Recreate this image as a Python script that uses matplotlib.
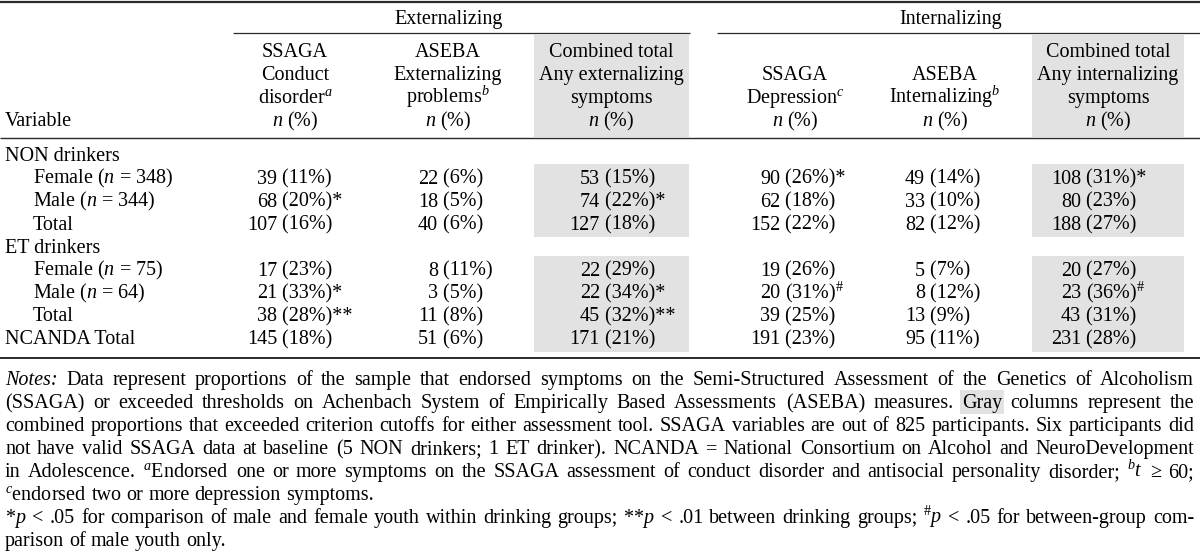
import matplotlib
matplotlib.use('Agg')
import matplotlib.pyplot as plt
from matplotlib.patches import Rectangle

plt.rcParams['font.family'] = 'Liberation Serif'
plt.rcParams['mathtext.fontset'] = 'custom'
plt.rcParams['mathtext.rm'] = 'Liberation Serif'
plt.rcParams['mathtext.it'] = 'Liberation Serif:italic'
plt.rcParams['mathtext.bf'] = 'Liberation Serif:bold'
plt.rcParams['font.size'] = 14.5

groups = ['Externalizing', 'Internalizing']

col_headers = [
    ['SSAGA', 'Conduct', 'disorder$^{a}$', '$n$ (%)'],
    ['ASEBA', 'Externalizing', 'problems$^{b}$', '$n$ (%)'],
    ['Combined total', 'Any externalizing', 'symptoms', '$n$ (%)'],
    ['SSAGA', 'Depression$^{c}$', '$n$ (%)'],
    ['ASEBA', 'Internalizing$^{b}$', '$n$ (%)'],
    ['Combined total', 'Any internalizing', 'symptoms', '$n$ (%)'],
]

row_labels = ['NON drinkers', 'Female ($n$ = 348)', 'Male ($n$ = 344)', 'Total',
              'ET drinkers', 'Female ($n$ = 75)', 'Male ($n$ = 64)', 'Total',
              'NCANDA Total']
row_indent = [0, 1, 1, 1, 0, 1, 1, 1, 0]
value_rows = [1, 2, 3, 5, 6, 7, 8]

conduct_n = [39, 68, 107, 17, 21, 38, 145]
conduct_pct = [11, 20, 16, 23, 33, 28, 18]
conduct_mark = ['', '*', '', '', '*', '**', '']

ext_n = [22, 18, 40, 8, 3, 11, 51]
ext_pct = [6, 5, 6, 11, 5, 8, 6]
ext_mark = ['', '', '', '', '', '', '']

ext_any_n = [53, 74, 127, 22, 22, 45, 171]
ext_any_pct = [15, 22, 18, 29, 34, 32, 21]
ext_any_mark = ['', '*', '', '', '*', '**', '']

dep_n = [90, 62, 152, 19, 20, 39, 191]
dep_pct = [26, 18, 22, 26, 31, 25, 23]
dep_mark = ['*', '', '', '', '#', '', '']

int_n = [49, 33, 82, 5, 8, 13, 95]
int_pct = [14, 10, 12, 7, 12, 9, 11]
int_mark = ['', '', '', '', '', '', '']

int_any_n = [108, 80, 188, 20, 23, 43, 231]
int_any_pct = [31, 23, 27, 27, 36, 31, 28]
int_any_mark = ['*', '', '', '', '#', '', '']

columns = [
    (conduct_n, conduct_pct, conduct_mark),
    (ext_n, ext_pct, ext_mark),
    (ext_any_n, ext_any_pct, ext_any_mark),
    (dep_n, dep_pct, dep_mark),
    (int_n, int_pct, int_mark),
    (int_any_n, int_any_pct, int_any_mark),
]

notes = [
    'Notes: Data represent proportions of the sample that endorsed symptoms on the '
    'Semi-Structured Assessment of the Genetics of Alcoholism',
    '(SSAGA) or exceeded thresholds on Achenbach System of Empirically Based '
    'Assessments (ASEBA) measures. Gray columns represent the',
    'combined proportions that exceeded criterion cutoffs for either assessment tool. '
    'SSAGA variables are out of 825 participants. Six participants did',
    'not have valid SSAGA data at baseline (5 NON drinkers; 1 ET drinker). NCANDA = '
    'National Consortium on Alcohol and NeuroDevelopment',
    'in Adolescence. $^{a}$Endorsed one or more symptoms on the SSAGA assessment of '
    'conduct disorder and antisocial personality disorder; $^{b}t$ ≥ 60;',
    '$^{c}$endorsed two or more depression symptoms.',
    '*$p$ < .05 for comparison of male and female youth within drinking groups; '
    '**$p$ < .01 between drinking groups; $^{\\#}p$ < .05 for between-group com-',
    'parison of male youth only.',
]
notes_justified = [True, True, True, True, True, False, True, False]

# layout (pixels)
W, H = 1200, 551
col_center = [295, 448, 611, 795, 945, 1108]
col_anchor = [277, 438, 600, 780, 925, 1081]
gray_cols = [(534, 689), (1032, 1184)]
span_lines = [(233, 690), (717, 1200)]
group_shift = [-13, -8]
header_base = [57, 80, 103, 126]
row_y0, row_step = 155, 22.9
note_y0, note_step = 379, 23
line_color = '#2a2a2a'
gray = '#e2e2e2'
off = 6

fig = plt.figure(figsize=(12, 5.51), dpi=100)
ax = fig.add_axes([0, 0, 1, 1])
ax.set_xlim(0, W)
ax.set_ylim(H, 0)
ax.axis('off')

# gray backgrounds
row_y = [row_y0 + i * row_step for i in range(len(row_labels))]
for x0, x1 in gray_cols:
    ax.add_patch(Rectangle((x0, 35), x1 - x0, 102, color=gray, lw=0))
    ax.add_patch(Rectangle((x0, row_y[1] - 14), x1 - x0,
                           row_y[3] - row_y[1] + 27, color=gray, lw=0))
    ax.add_patch(Rectangle((x0, row_y[5] - 14), x1 - x0,
                           row_y[8] - row_y[5] + 28, color=gray, lw=0))

# rules
ax.hlines(1.5, 0, W, color=line_color, lw=1.6)
for x0, x1 in span_lines:
    ax.hlines(33, x0, x1, color=line_color, lw=0.9)
ax.hlines(138, 0, W, color=line_color, lw=1.0)
ax.hlines(358, 0, W, color=line_color, lw=1.4)

# group headers
for name, (x0, x1), dx in zip(groups, span_lines, group_shift):
    ax.text((x0 + x1) / 2 + dx, 24, name, ha='center', va='baseline')

# column headers
ax.text(5, header_base[-1], 'Variable', ha='left', va='baseline')
for cx, lines in zip(col_center, col_headers):
    base = header_base[-len(lines):]
    for y, s in zip(base, lines):
        ax.text(cx, y, s, ha='center', va='baseline')

# rows
for y, label, ind in zip(row_y, row_labels, row_indent):
    ax.text(5 + 28 * ind, y + off, label, ha='left', va='baseline')

for ax_x, (ns, pcts, marks) in zip(col_anchor, columns):
    for r, n, p, m in zip(value_rows, ns, pcts, marks):
        y = row_y[r] + off
        ax.text(ax_x, y, str(n), ha='right', va='baseline')
        tail = ' (%d%%)' % p
        if m == '#':
            tail += '$^{\\#}$'
        else:
            tail += m
        ax.text(ax_x, y, tail, ha='left', va='baseline')

# notes, justified word by word
renderer = fig.canvas.get_renderer()
left, right = 5, 1194
space = 0.25 * 14.5 * 100 / 72
for i, (line, just) in enumerate(zip(notes, notes_justified)):
    y = note_y0 + i * note_step + off
    words = line.split(' ')
    items = []
    for w in words:
        style = 'italic' if w == 'Notes:' else 'normal'
        t = ax.text(0, y, w, ha='left', va='baseline', fontstyle=style)
        items.append((t, t.get_window_extent(renderer).width))
    total = sum(wd for _, wd in items)
    gap = (right - left - total) / (len(items) - 1) if just else space
    x = left
    for t, wd in items:
        t.set_x(x)
        if t.get_text() == 'Gray':
            ax.add_patch(Rectangle((x - 2, y - off - 12), wd + 4, 24,
                                   color=gray, lw=0, zorder=0))
        x += wd + gap

fig.savefig('out.png', dpi=100)
